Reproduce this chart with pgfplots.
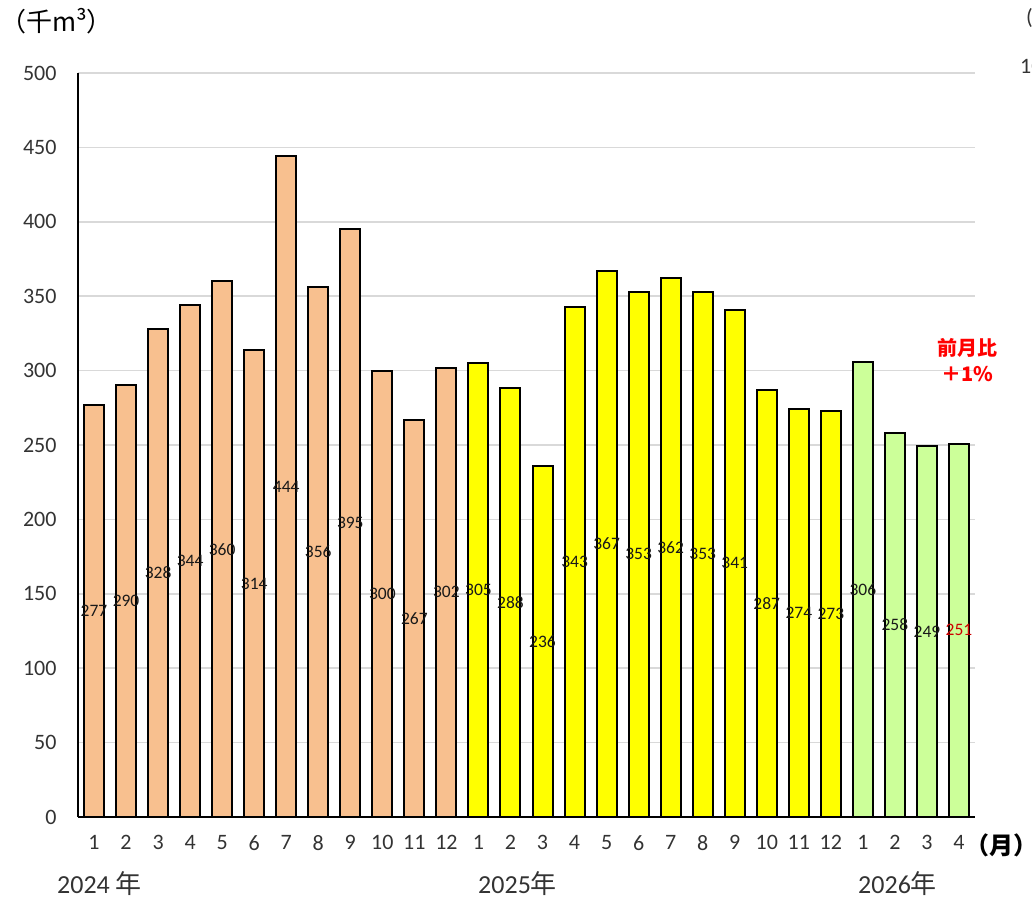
\documentclass[border=0pt]{standalone}
\usepackage{fontspec}
\setmainfont{Carlito}
\newfontfamily\cjk{Noto Sans CJK JP}
\usepackage{pgfplots}
\usepackage{pgfplotstable}
\pgfplotsset{compat=1.18}
\definecolor{bar24}{HTML}{F8C08F}
\definecolor{bar25}{HTML}{FFFF00}
\definecolor{bar26}{HTML}{CCFF99}
\definecolor{ticktxt}{HTML}{333333}
\definecolor{gridc}{HTML}{D9D9D9}

\pgfplotstableread{
x v
1 277
2 290
3 328
4 344
5 360
6 314
7 444
8 356
9 395
10 300
11 267
12 302
13 305
14 288
15 236
16 343
17 367
18 353
19 362
20 353
21 341
22 287
23 274
24 273
25 306
26 258
27 249
28 251
}\datatab

\begin{document}
\begin{tikzpicture}[x=1pt,y=1pt]
\useasboundingbox (0,0) rectangle (1032,900);
\begin{axis}[at={(78pt,83pt)}, anchor=south west,
  scale only axis, width=897pt, height=744pt,
  xmin=0.5, xmax=28.5, ymin=0, ymax=500,
  ytick={0,50,...,500},
  xtick={1,...,28},
  xticklabels={1,2,3,4,5,6,7,8,9,10,11,12,1,2,3,4,5,6,7,8,9,10,11,12,1,2,3,4},
  axis x line*=bottom, axis y line*=left,
  axis line style={line width=2pt, black, -},
  ymajorgrids, grid style={line width=1.5pt, gridc},
  major tick length=0pt,
  tick label style={font=\fontsize{22}{26}\selectfont, text=ticktxt},
  /pgf/number format/assume math mode=true,
  yticklabel style={xshift=-18pt},
  xticklabel style={yshift=-15pt},
  clip=false]
% bars by year
\addplot[ybar, bar width=20pt, bar shift=0pt, fill=bar24, draw=black, line width=2pt]
  table[x=x, y=v, restrict x to domain=1:12] {\datatab};
\addplot[ybar, bar width=20pt, bar shift=0pt, fill=bar25, draw=black, line width=2pt]
  table[x=x, y=v, restrict x to domain=13:24] {\datatab};
\addplot[ybar, bar width=20pt, bar shift=0pt, fill=bar26, draw=black, line width=2pt]
  table[x=x, y=v, restrict x to domain=25:28] {\datatab};
% value labels at mid-bar
\addplot[only marks, mark=none, nodes near coords, point meta=explicit,
  every node near coord/.append style={anchor=center, inner sep=0pt,
    font=\fontsize{17.5}{20}\selectfont, text=black!90},
  restrict x to domain=1:27]
  table[x=x, y expr=\thisrow{v}/2, meta=v] {\datatab};
\addplot[only marks, mark=none, nodes near coords, point meta=explicit,
  every node near coord/.append style={anchor=center, inner sep=0pt,
    font=\fontsize{17.5}{20}\selectfont, text=red!80!black},
  restrict x to domain=28:28]
  table[x=x, y expr=\thisrow{v}/2, meta=v] {\datatab};
\end{axis}
% titles and side notes
\node[anchor=west, inner sep=0pt, font=\cjk\fontsize{26}{30}\selectfont] at (0,879) {（千m³）};
\node[anchor=west, inner sep=0pt, font=\cjk\bfseries\fontsize{24}{28}\selectfont] at (965,55) {（月）};
\node[anchor=west, inner sep=0pt, font=\fontsize{26}{30}\selectfont, text=ticktxt] at (57,16) {2024 {\cjk 年}};
\node[anchor=west, inner sep=0pt, font=\fontsize{26}{30}\selectfont, text=ticktxt] at (478,16) {2025{\cjk 年}};
\node[anchor=west, inner sep=0pt, font=\fontsize{26}{30}\selectfont, text=ticktxt] at (858,16) {2026{\cjk 年}};
\node[align=center, inner sep=0pt, text=red, font=\cjk\bfseries\fontsize{20}{26}\selectfont] at (967,540) {前月比\\＋1\%};
% cut-off secondary axis labels at the right edge
\node[anchor=west, inner sep=0pt, font=\fontsize{22}{26}\selectfont, text=ticktxt] at (1020,834) {100};
\node[anchor=west, inner sep=0pt, font=\fontsize{22}{26}\selectfont, text=ticktxt] at (1026,882) {(};
\end{tikzpicture}
\end{document}
